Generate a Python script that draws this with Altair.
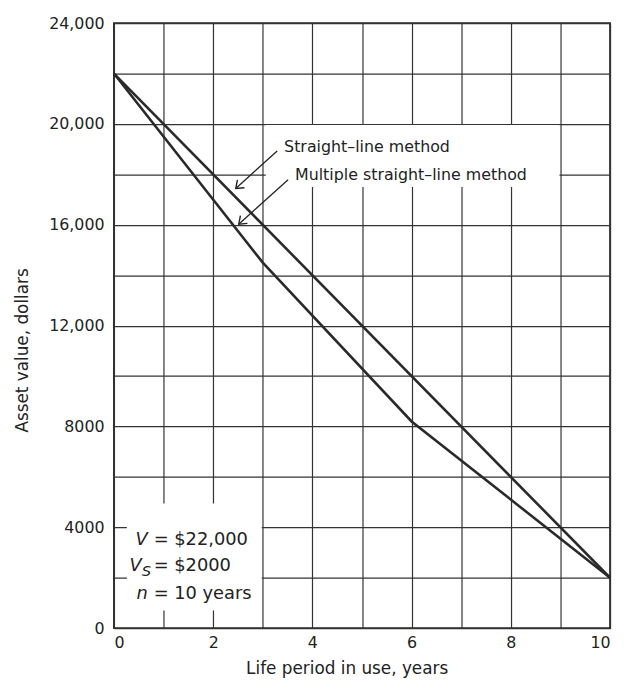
import altair as alt
import pandas as pd

# ---- data ----
sl_years = [0, 10]
sl_values = [22000, 2000]

msl_years = [0, 3, 6, 10]
msl_values = [22000, 14500, 8200, 2000]

x_ticks = list(range(0, 11))
y_ticks = list(range(0, 24001, 2000))

label_texts = ["Straight\u2013line method", "Multiple straight\u2013line method"]
label_x = [3.43, 3.65]
label_y = [19090, 17990]

arrow_tail_x = [3.29, 3.51]
arrow_tail_y = [18930, 17790]
arrow_tip_x = [2.455, 2.515]
arrow_tip_y = [17440, 16025]
arrow_angle = [138, 138]

param_sym = ["V", "V", "n"]
param_sym_x = [0.68, 0.56, 0.68]
param_rhs = ["= $22,000", "= $2000", "= 10 years"]
param_y = [3500, 2470, 1370]

# white boxes behind annotations (masking grid)
box_x = [0.26, 3.06]
box_x2 = [2.98, 8.98]
box_y = [700, 17500]
box_y2 = [4950, 19960]

FONT = "DejaVu Sans"
INK = "#222222"

lines_df = pd.DataFrame(
    {"year": sl_years + msl_years,
     "value": sl_values + msl_values,
     "series": ["Straight-line"] * len(sl_years) + ["Multiple straight-line"] * len(msl_years)}
)
labels_df = pd.DataFrame({"x": label_x, "y": label_y, "t": label_texts})
arrows_df = pd.DataFrame({"x": arrow_tail_x, "y": arrow_tail_y, "x2": arrow_tip_x,
                          "y2": arrow_tip_y, "a": arrow_angle})
sym_df = pd.DataFrame({"x": param_sym_x, "y": param_y, "t": param_sym})
rhs_df = pd.DataFrame({"x": [0.80] * 3, "y": param_y, "t": param_rhs})
sub_df = pd.DataFrame({"x": [0.56], "y": [param_y[1]], "t": ["S"]})
box_df = pd.DataFrame({"x": box_x, "x2": box_x2, "y": box_y, "y2": box_y2})

xscale = alt.Scale(domain=[0, 10], nice=False, zero=False)
yscale = alt.Scale(domain=[0, 24000], nice=False)

axis_style = dict(
    grid=True, gridColor="#333333", gridWidth=1.2, gridOpacity=1,
    domain=False, ticks=False,
    labelFont=FONT, labelFontSize=16, labelColor=INK,
    titleFont=FONT, titleFontSize=17, titleColor=INK, titleFontWeight="normal",
)

x_axis = alt.Axis(
    values=x_ticks,
    labelExpr="datum.value % 2 == 0 ? datum.label : ''",
    title="Life period in use, years",
    titleX=235, titleY=41, titleBaseline="middle", titleAnchor="middle",
    labelPadding=7,
    **axis_style,
)
y_axis = alt.Axis(
    values=y_ticks,
    labelExpr="datum.value % 4000 == 0 ? (datum.value >= 10000 ? format(datum.value, ',') : format(datum.value, 'd')) : ''",
    title="Asset value, dollars",
    titleX=-92, titleY=330, titleBaseline="middle", titleAlign="center",
    labelPadding=10,
    **axis_style,
)

boxes = alt.Chart(box_df).mark_rect(color="white").encode(
    x=alt.X("x:Q", scale=xscale, axis=x_axis), x2="x2:Q",
    y=alt.Y("y:Q", scale=yscale, axis=y_axis), y2="y2:Q",
)

lines = alt.Chart(lines_df).mark_line(color="#2a2a2a", strokeWidth=2.6).encode(
    x=alt.X("year:Q", scale=xscale), y=alt.Y("value:Q", scale=yscale), detail="series:N"
)

arrows = alt.Chart(arrows_df).mark_rule(color=INK, strokeWidth=1.3).encode(
    x="x:Q", y="y:Q", x2="x2:Q", y2="y2:Q"
)
heads = alt.Chart(arrows_df).mark_point(
    shape="M -1 -0.75 L 0 0 L -1 0.75", filled=False, color=INK, strokeWidth=1.4,
    size=200, opacity=1,
).encode(x="x2:Q", y="y2:Q", angle=alt.Angle("a:Q", scale=None))

labels = alt.Chart(labels_df).mark_text(
    align="left", baseline="middle", font=FONT, fontSize=16, color=INK
).encode(x="x:Q", y="y:Q", text="t:N")

syms = alt.Chart(sym_df).mark_text(
    align="right", baseline="middle", font=FONT, fontSize=18, fontStyle="italic", color=INK
).encode(x="x:Q", y="y:Q", text="t:N")
subs = alt.Chart(sub_df).mark_text(
    align="left", baseline="middle", font=FONT, fontSize=15, fontStyle="italic", color=INK, dy=5
).encode(x="x:Q", y="y:Q", text="t:N")
rhs = alt.Chart(rhs_df).mark_text(
    align="left", baseline="middle", font=FONT, fontSize=18, color=INK
).encode(x="x:Q", y="y:Q", text="t:N")

chart = alt.layer(boxes, lines, arrows, heads, labels, syms, subs, rhs).properties(
    width=501, height=611,
    autosize=alt.AutoSizeParams(type="none"),
    padding={"left": 107, "top": 12, "right": 6, "bottom": 47},
    background="white",
).configure_view(
    stroke="#222222", strokeWidth=1.8
)

chart.save("out.html", embed_options={"renderer": "svg", "actions": False})
